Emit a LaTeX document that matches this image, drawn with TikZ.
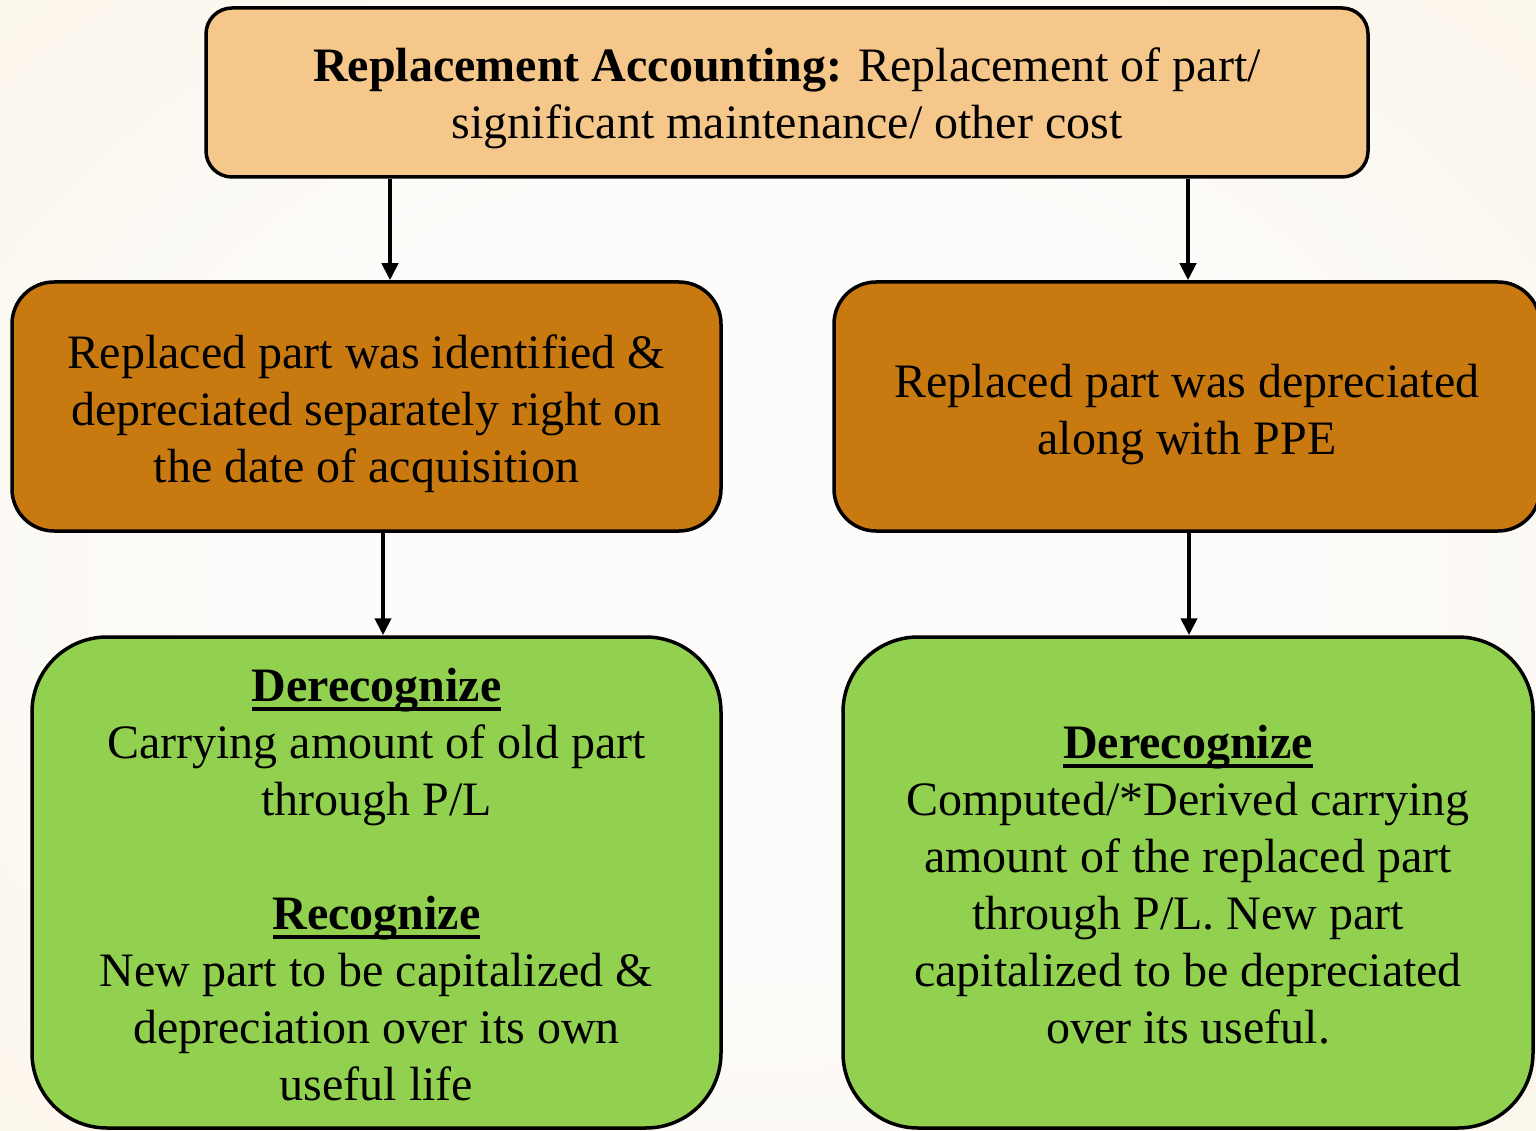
\documentclass[tikz,border=0pt]{standalone}
\usepackage{fontspec}
\setmainfont{Liberation Serif}
\usetikzlibrary{arrows.meta}
\definecolor{topfill}{HTML}{F5C78A}
\definecolor{midfill}{HTML}{C87A10}
\definecolor{grnfill}{HTML}{92D050}
\definecolor{bgin}{HTML}{FDFCFA}
\definecolor{bgmid}{HTML}{FAF0DF}
\definecolor{bgout}{HTML}{F3DEB8}
\pgfdeclareradialshading{bgshade}{\pgfpoint{0bp}{0bp}}{color(0bp)=(bgin); color(18bp)=(bgin); color(50bp)=(bgmid); color(72bp)=(bgout)}
\newcommand\ulhead[1]{\setbox0\hbox{\textbf{#1}}\rlap{\rule[-10pt]{\wd0}{4pt}}\box0}
\tikzset{
  box/.style={draw=black, line width=3.5pt, inner sep=0pt},
  txt/.style={align=center, inner sep=0pt, font=\fontsize{48}{57}\selectfont},
  topbox/.style={box, fill=topfill, rounded corners=26pt, minimum width=1162pt, minimum height=169pt},
  midbox/.style={box, fill=midfill, rounded corners=42pt, minimum width=709pt, minimum height=249pt},
  grnbox/.style={box, fill=grnfill, rounded corners=75pt, minimum width=689pt, minimum height=491pt},
  conn/.style={line width=4pt, -{Triangle[length=17pt,width=16pt]}},
}
\begin{document}
\begin{tikzpicture}[x=1pt,y=-1pt]
\path[shading=bgshade] (0,0) rectangle (1536,1131);
\useasboundingbox (0,0) rectangle (1536,1131);
\node[topbox] (top) at (787,92.5) {};
\node[midbox] (ml) at (366.5,406.5) {};
\node[midbox, minimum width=706pt] (mr) at (1187,406.5) {};
\node[grnbox] (bl) at (376.5,882.5) {};
\node[grnbox, minimum width=690pt] (br) at (1188,882.5) {};
\node[txt, yshift=-6pt] (toptxt) at (top.center) {\textbf{Replacement Accounting:} Replacement of part/\\significant maintenance/ other cost};
\node[txt, yshift=-7pt] (mltxt) at (ml.center) {Replaced part was identified \&\\depreciated separately right on\\the date of acquisition};
\node[txt, yshift=-8pt] (mrtxt) at (mr.center) {Replaced part was depreciated\\along with PPE};
\node[txt, yshift=-2pt] (bltxt) at (bl.center) {\ulhead{Derecognize}\\Carrying amount of old part\\through P/L\\[57pt]\ulhead{Recognize}\\New part to be capitalized \&\\depreciation over its own\\useful life};
\node[txt, yshift=-2pt] (brtxt) at (br.center) {\ulhead{Derecognize}\\Computed/*Derived carrying\\amount of the replaced part\\through P/L. New part\\capitalized to be depreciated\\over its useful.};
\coordinate (a1) at (390,0);
\coordinate (a2) at (1188,0);
\coordinate (a3) at (383,0);
\coordinate (a4) at (1189,0);
\draw[conn] (top.south -| a1) -- (ml.north -| a1);
\draw[conn] (top.south -| a2) -- (mr.north -| a2);
\draw[conn] (ml.south -| a3) -- (bl.north -| a3);
\draw[conn] (mr.south -| a4) -- (br.north -| a4);
\end{tikzpicture}
\end{document}
